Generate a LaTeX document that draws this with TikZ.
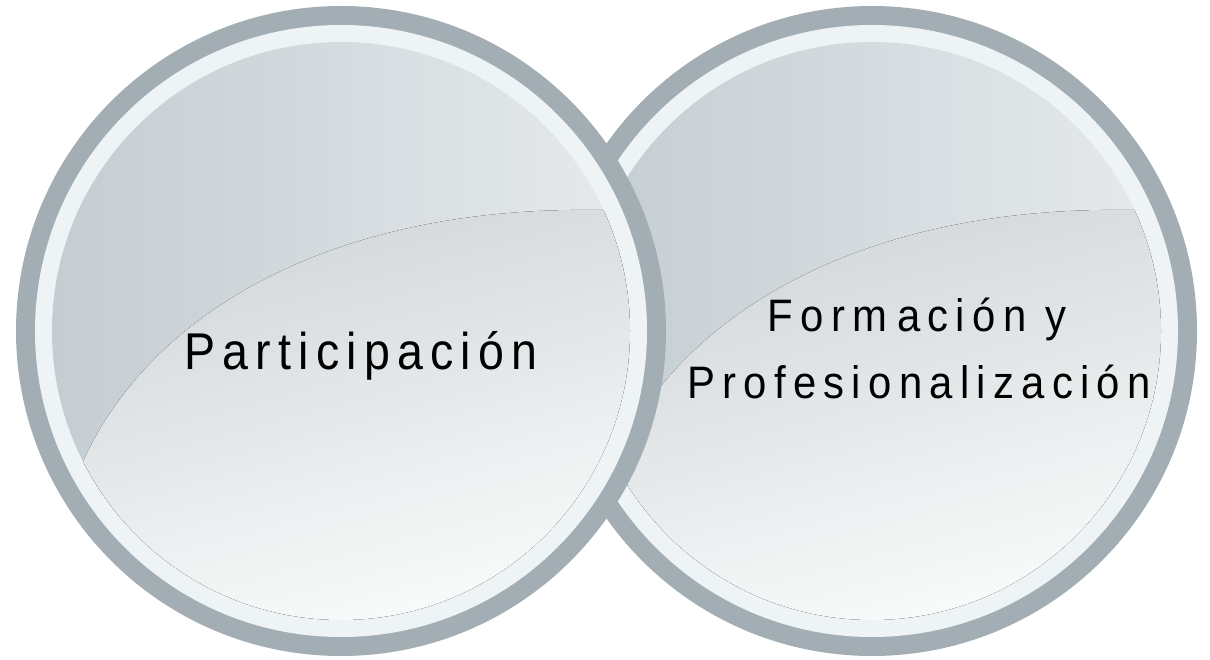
\documentclass[tikz,border=0pt]{standalone}
\usepackage{fontspec}
\newfontfamily\partfont[FakeStretch=0.9,LetterSpace=14]{Liberation Sans}
\newfontfamily\formfont[FakeStretch=0.92,LetterSpace=16]{Liberation Sans}
\definecolor{ringgray}{HTML}{A3AEB4}
\definecolor{ringwhite}{HTML}{EEF4F6}
\definecolor{faceleft}{HTML}{C4CDD2}
\definecolor{faceright}{HTML}{E6EAEC}
\definecolor{glosstop}{HTML}{D0D5D8}
\definecolor{glossbottom}{HTML}{FBFCFC}
\tikzset{
  outerring/.style={circle, fill=ringgray, minimum size=650pt, inner sep=0pt},
  innerring/.style={circle, fill=ringwhite, minimum size=612pt, inner sep=0pt},
  lensface/.style={circle, left color=faceleft, right color=faceright, minimum size=578pt, inner sep=0pt},
  gloss/.style={top color=glosstop, bottom color=glossbottom, shading angle=15},
  lenslabel/.style={anchor=base, text=black, inner sep=0pt}
}
\begin{document}
\begin{tikzpicture}[x=1pt,y=1pt]
\useasboundingbox (0,0) rectangle (1210,659);

\foreach \cx/\nm in {872/form, 341/part}{
  \node[outerring] (\nm-ring) at (\cx,328) {};
  \node[innerring] (\nm-band) at (\nm-ring) {};
  \node[lensface] (\nm-face) at (\nm-ring) {};
  \begin{scope}[shift={(\nm-ring.center)}]
    \clip (0,0) circle (289);
    \fill[gloss] (-262,-140) .. controls (-200,10) and (-20,125) .. (257,121)
      -- (300,121) -- (300,-300) -- (-300,-300) -- cycle;
  \end{scope}
}

\node[lenslabel, font=\partfont\fontsize{51.7}{60}\selectfont] (part-label) at (361,289) {Participación};
\node[lenslabel, font=\formfont\fontsize{45.5}{54}\selectfont] (form-label) at (917,327) {Form\hspace{10pt}ación y};
\node[lenslabel, font=\formfont\fontsize{45.5}{54}\selectfont] (form-label2) at (919,260) {Profesionalización};

\end{tikzpicture}
\end{document}
